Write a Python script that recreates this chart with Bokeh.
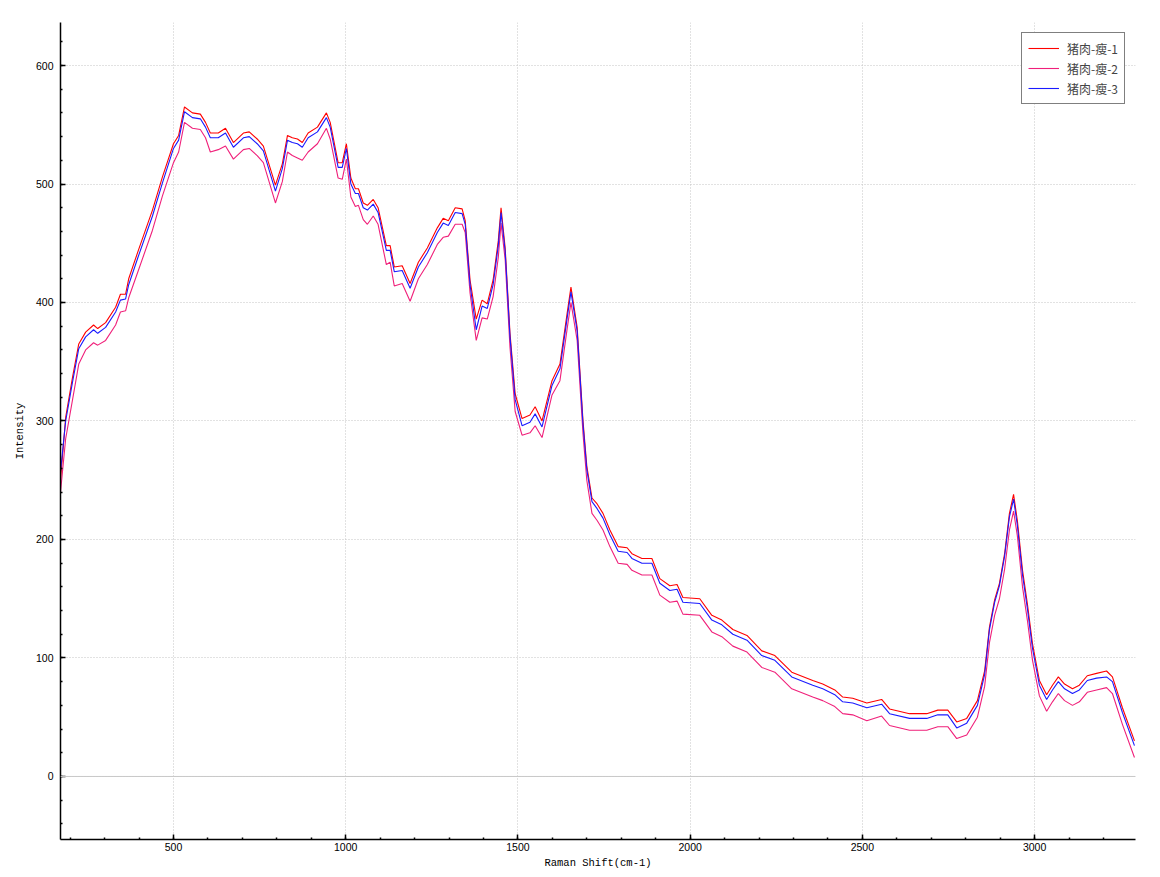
from bokeh.plotting import figure
from bokeh.models import Range1d, SingleIntervalTicker, Span, Legend, LegendItem
from bokeh.embed import file_html
from bokeh.resources import INLINE

# Raman shift (cm-1)
shift = [172, 187, 207, 225, 245, 268, 280, 303, 332, 346, 361, 370, 398, 439, 468,
         500, 515, 532, 555, 578, 593, 607, 630, 651, 674, 703, 720, 743, 761, 796,
         816, 831, 845, 860, 874, 891, 918, 944, 955, 978, 990, 1002, 1015, 1028, 1037,
         1051, 1063, 1080, 1094, 1118, 1129, 1141, 1164, 1187, 1211, 1237, 1266, 1283, 1298, 1318,
         1338, 1347, 1361, 1379, 1396, 1411, 1428, 1443, 1451, 1463, 1477, 1492, 1512, 1535, 1550,
         1570, 1599, 1622, 1643, 1654, 1672, 1689, 1700, 1715, 1730, 1747, 1767, 1791, 1817, 1831,
         1860, 1889, 1912, 1941, 1962, 1979, 2028, 2063, 2092, 2124, 2165, 2208, 2246, 2295, 2356,
         2385, 2420, 2443, 2472, 2513, 2556, 2579, 2637, 2687, 2719, 2748, 2774, 2803, 2834, 2855,
         2869, 2884, 2898, 2913, 2927, 2939, 2950, 2965, 2979, 2994, 3014, 3035, 3052, 3069, 3087,
         3110, 3130, 3153, 3180, 3209, 3226, 3255, 3290]

lean_1 = [250, 303, 337, 365, 375, 381, 378, 383, 396, 407, 407, 420, 444, 478, 506,
          534, 541, 565, 560, 559, 552, 543, 543, 547, 535, 543, 544, 538, 532, 499,
          517, 541, 539, 538, 535, 543, 548, 560, 552, 518, 518, 534, 505, 496, 496,
          484, 482, 487, 480, 448, 448, 430, 431, 416, 434, 446, 463, 471, 469, 480,
          479, 469, 419, 386, 402, 399, 419, 452, 480, 446, 374, 323, 302, 305, 312,
          300, 334, 348, 391, 413, 379, 300, 262, 235, 230, 222, 208, 194, 193, 188,
          184, 184, 167, 161, 162, 151, 150, 136, 132, 124, 119, 106, 102, 88, 81,
          78, 73, 67, 66, 62, 65, 57, 53, 53, 56, 56, 46, 49, 64, 89,
          126, 149, 163, 188, 222, 238, 216, 174, 146, 112, 81, 69, 77, 84, 78,
          74, 77, 85, 87, 89, 84, 58, 30]

lean_2 = [240, 285, 318, 348, 360, 366, 364, 368, 381, 392, 393, 404, 427, 461, 490,
          518, 527, 552, 547, 546, 539, 527, 529, 532, 521, 529, 530, 524, 518, 484,
          502, 527, 524, 522, 520, 527, 534, 547, 538, 505, 504, 521, 489, 481, 482,
          470, 466, 473, 466, 432, 434, 414, 416, 401, 420, 432, 449, 455, 456, 466,
          466, 459, 408, 368, 387, 386, 405, 438, 467, 436, 362, 308, 288, 290, 296,
          286, 322, 334, 378, 400, 368, 289, 250, 222, 216, 208, 194, 180, 179, 174,
          170, 170, 153, 147, 148, 137, 136, 122, 118, 110, 105, 92, 88, 74, 67,
          64, 59, 53, 52, 47, 51, 43, 39, 39, 42, 42, 32, 35, 50, 76,
          113, 136, 150, 175, 208, 224, 203, 160, 132, 98, 68, 55, 63, 70, 64,
          60, 63, 71, 73, 75, 70, 44, 16]

lean_3 = [257, 300, 333, 361, 371, 377, 374, 379, 392, 402, 403, 415, 439, 473, 501,
          530, 537, 561, 556, 555, 548, 539, 539, 543, 531, 539, 540, 534, 528, 494,
          513, 537, 535, 534, 531, 539, 544, 556, 548, 514, 514, 530, 500, 492, 492,
          480, 478, 483, 476, 444, 444, 426, 427, 412, 430, 442, 459, 467, 465, 476,
          475, 466, 415, 377, 397, 395, 415, 448, 476, 443, 371, 318, 296, 299, 306,
          295, 330, 344, 387, 409, 376, 297, 259, 232, 226, 218, 204, 190, 189, 184,
          180, 180, 163, 157, 158, 147, 146, 132, 128, 120, 115, 102, 98, 84, 77,
          74, 69, 63, 62, 58, 61, 53, 49, 49, 52, 52, 41, 45, 60, 86,
          124, 147, 161, 186, 219, 234, 212, 170, 142, 108, 77, 65, 73, 80, 74,
          70, 73, 81, 83, 84, 80, 54, 26]

names = ["猪肉-瘦-1", "猪肉-瘦-2", "猪肉-瘦-3"]
colors = ["#ff0000", "#f0207a", "#1a1aff"]

p = figure(width=1160, height=877, output_backend="svg", toolbar_location=None,
           x_range=Range1d(172, 3293), y_range=Range1d(-53.2, 636.3),
           min_border_left=60, min_border_right=25, min_border_top=22, min_border_bottom=38,
           background_fill_color="white", border_fill_color="white")
p.outline_line_color = None

xt = SingleIntervalTicker(interval=500, num_minor_ticks=5)
yt = SingleIntervalTicker(interval=100, num_minor_ticks=5)
p.xaxis.ticker = xt
p.yaxis.ticker = yt
p.xgrid.ticker = xt
p.ygrid.ticker = yt

for ax in (p.xaxis[0], p.yaxis[0]):
    ax.axis_line_color = "black"
    ax.axis_line_width = 1.5
    ax.major_tick_in = 5
    ax.major_tick_out = 0
    ax.minor_tick_in = 2
    ax.minor_tick_out = 0
    ax.major_tick_line_color = "black"
    ax.minor_tick_line_color = "black"
    ax.major_tick_line_width = 1.5
    ax.minor_tick_line_width = 1.5
    ax.major_label_text_font = "Liberation Sans"
    ax.major_label_text_font_size = "10.5px"
    ax.major_label_text_color = "black"
    ax.axis_label_text_font = "Liberation Mono"
    ax.axis_label_text_font_size = "10.5px"
    ax.axis_label_text_font_style = "normal"
    ax.axis_label_text_color = "black"

p.xaxis.axis_label = "Raman Shift(cm-1)"
p.yaxis.axis_label = "Intensity"
p.xaxis.major_label_standoff = 3
p.yaxis.major_label_standoff = 7
p.xaxis.axis_label_standoff = 3
p.yaxis.axis_label_standoff = 7

for g in (p.xgrid[0], p.ygrid[0]):
    g.grid_line_color = "#c4c4c4"
    g.grid_line_dash = "1 2"
    g.grid_line_width = 1

p.add_layout(Span(location=0, dimension="width", line_color="#c8c8c8", line_width=1))

series = [lean_1, lean_2, lean_3]
renderers = []
for ys, c in zip(series, colors):
    renderers.append(p.line(shift, ys, line_color=c, line_width=1.1))

legend = Legend(items=[LegendItem(label=n, renderers=[r]) for n, r in zip(names, renderers)],
                location="top_right", margin=10)
legend.border_line_color = "black"
legend.border_line_width = 1
legend.background_fill_color = "white"
legend.background_fill_alpha = 1
legend.label_text_font = "Noto Sans CJK SC"
legend.label_text_font_size = "12px"
legend.padding = 6
legend.spacing = 2
legend.label_height = 18
legend.glyph_height = 18
legend.glyph_width = 31
legend.label_standoff = 8
p.add_layout(legend)

open("out.html", "w").write(file_html(p, INLINE))
